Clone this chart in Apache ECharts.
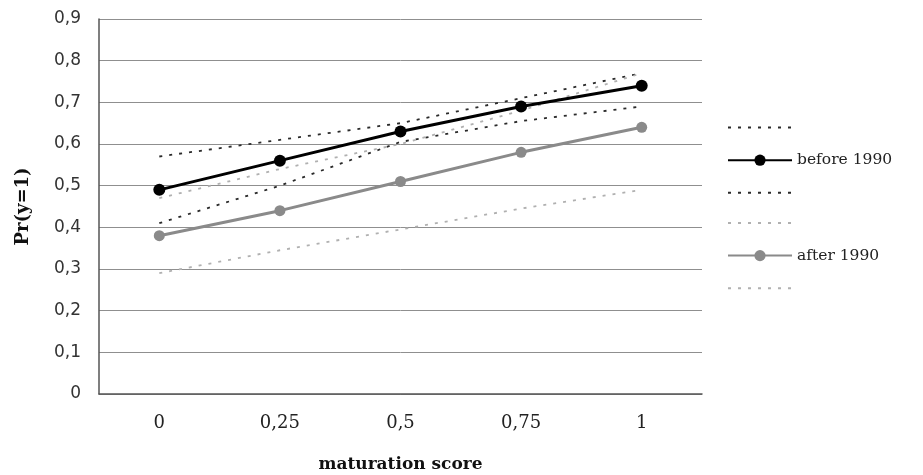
<!DOCTYPE html>
<html>
<head>
<meta charset="utf-8">
<script src="https://cdn.jsdelivr.net/npm/echarts@6/dist/echarts.min.js"></script>
<style>html,body{margin:0;padding:0;background:#fff;}#c{width:923px;height:475px;}</style>
</head>
<body>
<div id="c"></div>
<script>
var categories = ['0', '0,25', '0,5', '0,75', '1'];
var yTicks = ['0', '0,1', '0,2', '0,3', '0,4', '0,5', '0,6', '0,7', '0,8', '0,9'];
var before1990 = [0.49, 0.56, 0.63, 0.69, 0.74];
var after1990 = [0.38, 0.44, 0.51, 0.58, 0.64];
var beforeUpper = [0.57, 0.61, 0.65, 0.71, 0.77];
var beforeLower = [0.41, 0.50, 0.605, 0.655, 0.69];
var afterUpper = [0.47, 0.54, 0.60, 0.68, 0.77];
var afterLower = [0.29, 0.345, 0.395, 0.445, 0.49];

var chart = echarts.init(document.getElementById('c'), null, {renderer: 'canvas'});
var darkDot = '#2a2a2a', lightDot = '#b0b0b0';
function dotted(name, data, color) {
  return {
    name: name, type: 'line', data: data, symbol: 'none', silent: true,
    lineStyle: {color: color, width: 1.8, type: [3, 7]},
    itemStyle: {color: color}, z: 1
  };
}
function hiddenSym(name) { return {name: name, itemStyle: {opacity: 0}}; }
chart.setOption({
  animation: false,
  backgroundColor: '#fff',
  grid: {left: 99, right: 221, top: 19, bottom: 81, containLabel: false, outerBoundsMode: 'none'},
  xAxis: {
    type: 'category', data: categories, boundaryGap: true,
    name: 'maturation score', nameLocation: 'middle', nameGap: 62,
    nameTextStyle: {fontFamily: 'DejaVu Serif', fontWeight: 'bold', fontSize: 17, color: '#111'},
    axisLine: {lineStyle: {color: '#555', width: 1.5}},
    axisTick: {show: false},
    axisLabel: {fontFamily: 'DejaVu Serif', fontSize: 18, color: '#222', margin: 20}
  },
  yAxis: {
    type: 'value', min: 0, max: 0.9, interval: 0.1,
    name: 'Pr(y=1)', nameLocation: 'middle', nameGap: 67, nameRotate: 90,
    nameTextStyle: {fontFamily: 'DejaVu Serif', fontWeight: 'bold', fontSize: 18, color: '#111'},
    axisLine: {show: true, lineStyle: {color: '#555', width: 1.5}},
    axisTick: {show: false},
    axisLabel: {fontFamily: 'DejaVu Sans', fontSize: 17, color: '#333', margin: 18,
      formatter: function (v) { return yTicks[Math.round(v * 10)]; }},
    splitLine: {lineStyle: {color: '#8f8f8f', width: 1}}
  },
  legend: {
    orient: 'vertical', left: 722, top: 117,
    itemWidth: 64, itemHeight: 14, itemGap: 19,
    data: [hiddenSym('bU'), 'before 1990', hiddenSym('bL'), hiddenSym('aU'), 'after 1990', hiddenSym('aL')],
    formatter: function (n) { return (n === 'before 1990' || n === 'after 1990') ? n : ''; },
    textStyle: {fontFamily: 'DejaVu Serif', fontSize: 15.5, color: '#222', lineHeight: 14}
  },
  series: [
    dotted('bU', beforeUpper, darkDot),
    {
      name: 'before 1990', type: 'line', data: before1990, z: 3,
      symbol: 'circle', symbolSize: 12,
      lineStyle: {color: '#000', width: 3}, itemStyle: {color: '#000'}
    },
    dotted('bL', beforeLower, darkDot),
    dotted('aU', afterUpper, lightDot),
    {
      name: 'after 1990', type: 'line', data: after1990, z: 2,
      symbol: 'circle', symbolSize: 11,
      lineStyle: {color: '#8a8a8a', width: 3}, itemStyle: {color: '#8a8a8a'}
    },
    dotted('aL', afterLower, lightDot)
  ]
});
</script>
</body>
</html>
